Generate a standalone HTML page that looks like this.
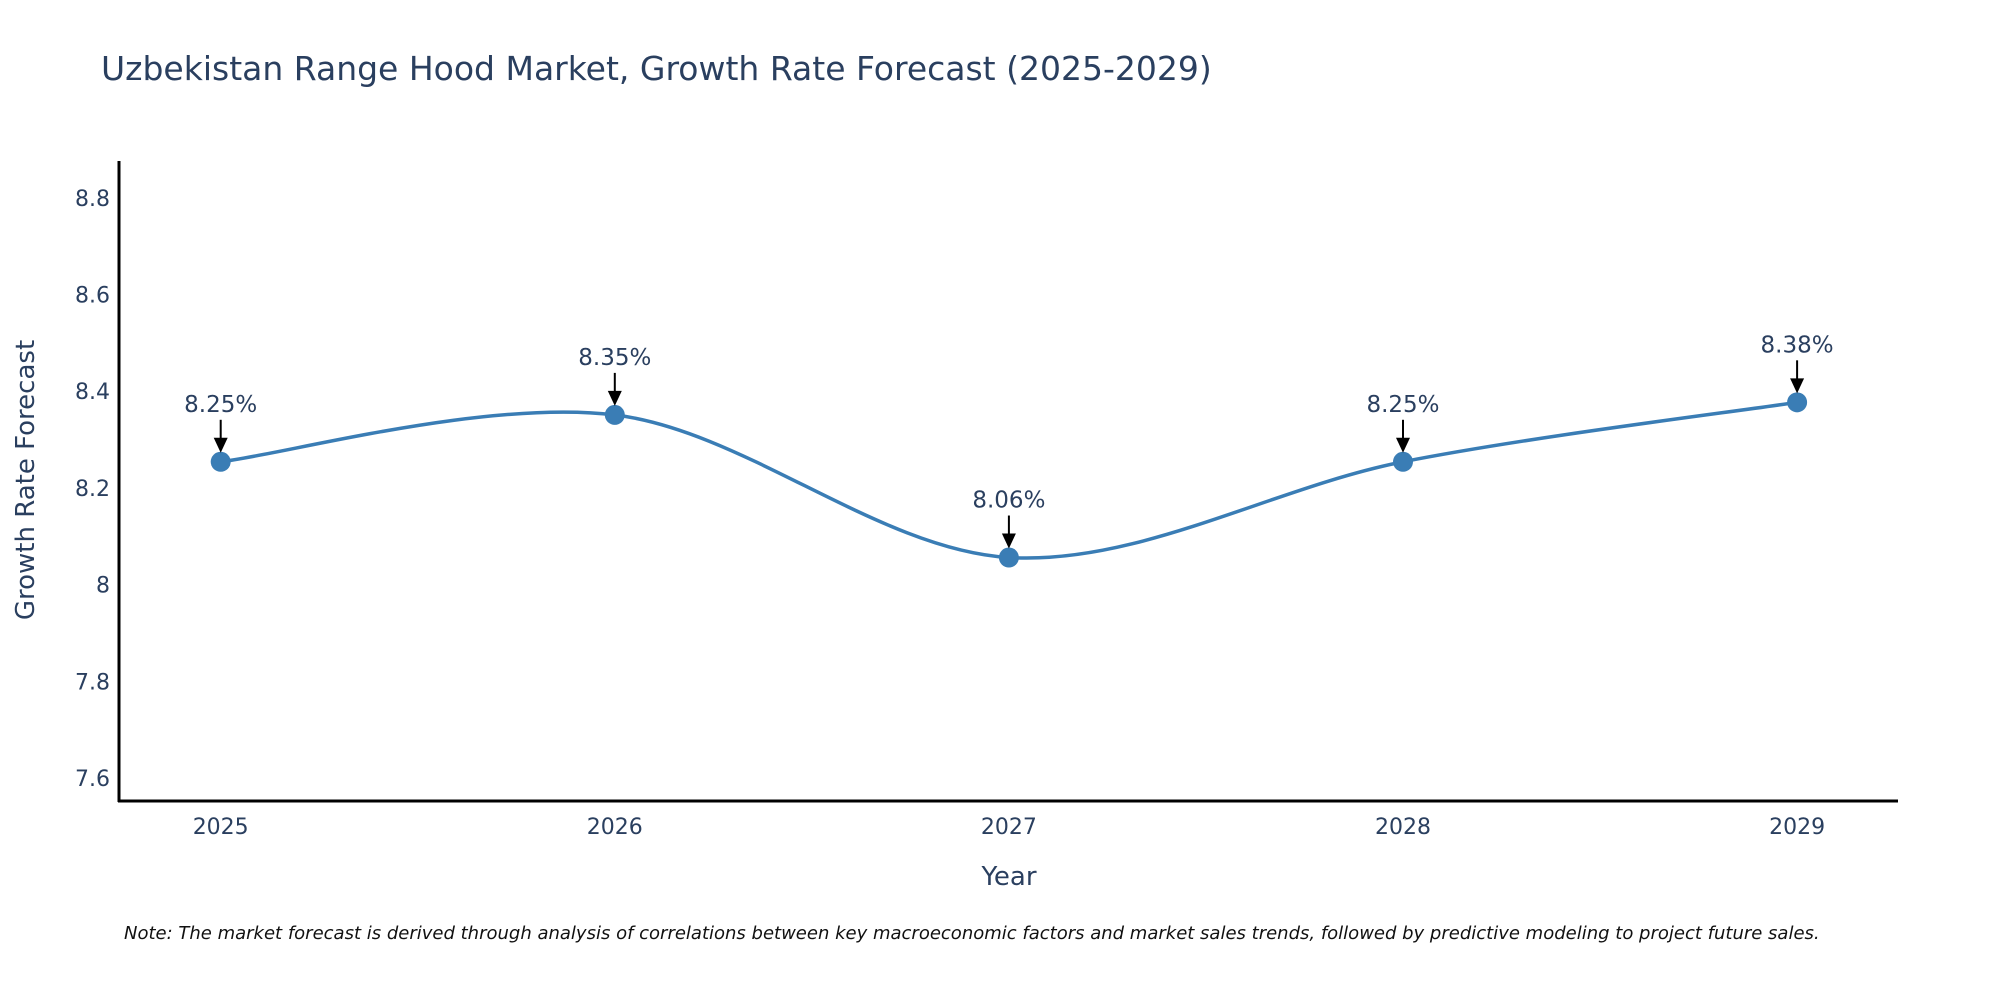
<!DOCTYPE html>
<html><head><meta charset="utf-8"><style>
body{margin:0;background:#fff;}
svg text{font-family:"DejaVu Sans","Liberation Sans",sans-serif;fill:#2a3f5f;}
</style></head><body>
<svg id="chart" width="2000" height="1000" xmlns="http://www.w3.org/2000/svg">
<text x="101" y="80" font-size="33">Uzbekistan Range Hood Market, Growth Rate Forecast (2025-2029)</text>
<g id="yticks"></g>
<g id="xticks"></g>
<line x1="119" y1="161" x2="119" y2="802" stroke="#000" stroke-width="3"/>
<line x1="118" y1="801" x2="1898" y2="801" stroke="#000" stroke-width="3"/>
<text x="0" y="0" transform="translate(34,480) rotate(-90)" text-anchor="middle" font-size="26">Growth Rate Forecast</text>
<text x="1009" y="885" text-anchor="middle" font-size="26">Year</text>
<g id="series"></g>
<text x="124" y="939" font-size="18" font-style="italic" style="fill:#111">Note: The market forecast is derived through analysis of correlations between key macroeconomic factors and market sales trends, followed by predictive modeling to project future sales.</text>
</svg>
<script>
const years=["2025","2026","2027","2028","2029"];
const values=[8.254,8.351,8.056,8.254,8.377];
const labels=["8.25%","8.35%","8.06%","8.25%","8.38%"];
const yTicks=[7.6,7.8,8,8.2,8.4,8.6,8.8];
const yTickLabels=["7.6","7.8","8","8.2","8.4","8.6","8.8"];
const NS="http://www.w3.org/2000/svg";
function yScale(v){return 778-(v-7.6)/0.2*96.7;}
function xScale(i){return 220.7+i*394.1;}
function mk(tag,attrs,parent){const e=document.createElementNS(NS,tag);for(const k in attrs)e.setAttribute(k,attrs[k]);parent.appendChild(e);return e;}
const yt=document.getElementById('yticks');
yTicks.forEach((v,i)=>{const t=mk('text',{x:110,y:yScale(v)+8,'text-anchor':'end','font-size':22},yt);t.textContent=yTickLabels[i];

});
const xt=document.getElementById('xticks');
years.forEach((y,i)=>{const t=mk('text',{x:xScale(i),y:834,'text-anchor':'middle','font-size':22},xt);t.textContent=y;

});
const s=document.getElementById('series');
const pts=values.map((v,i)=>[xScale(i),yScale(v)]);
let d='M'+pts[0][0]+','+pts[0][1];
const k=0.33;
for(let i=0;i<pts.length-1;i++){
 const p0=pts[i-1]||pts[i],p1=pts[i],p2=pts[i+1],p3=pts[i+2]||pts[i+1];
 const c1=[p1[0]+(p2[0]-p0[0])*k/2,p1[1]+(p2[1]-p0[1])*k/2];
 const c2=[p2[0]-(p3[0]-p1[0])*k/2,p2[1]-(p3[1]-p1[1])*k/2];
 d+=' C'+c1+' '+c2+' '+p2;
}
const line=mk('path',{d:d,fill:'none',stroke:'#3a7db5','stroke-width':3.5},s);


pts.forEach((p,i)=>{
 const c=mk('circle',{cx:p[0],cy:p[1],r:10,fill:'#3a7db5'},s);
 
 
 const a=mk('line',{x1:p[0],y1:p[1]-42,x2:p[0],y2:p[1]-22,stroke:'#000','stroke-width':2},s);
 
 
 const h=mk('polygon',{points:(p[0]-7)+','+(p[1]-24)+' '+(p[0]+7)+','+(p[1]-24)+' '+p[0]+','+(p[1]-9),fill:'#000'},s);
 
 
 const t=mk('text',{x:p[0],y:p[1]-50,'text-anchor':'middle','font-size':23},s);
 t.textContent=labels[i];
 
 
});
</script>
</body></html>
